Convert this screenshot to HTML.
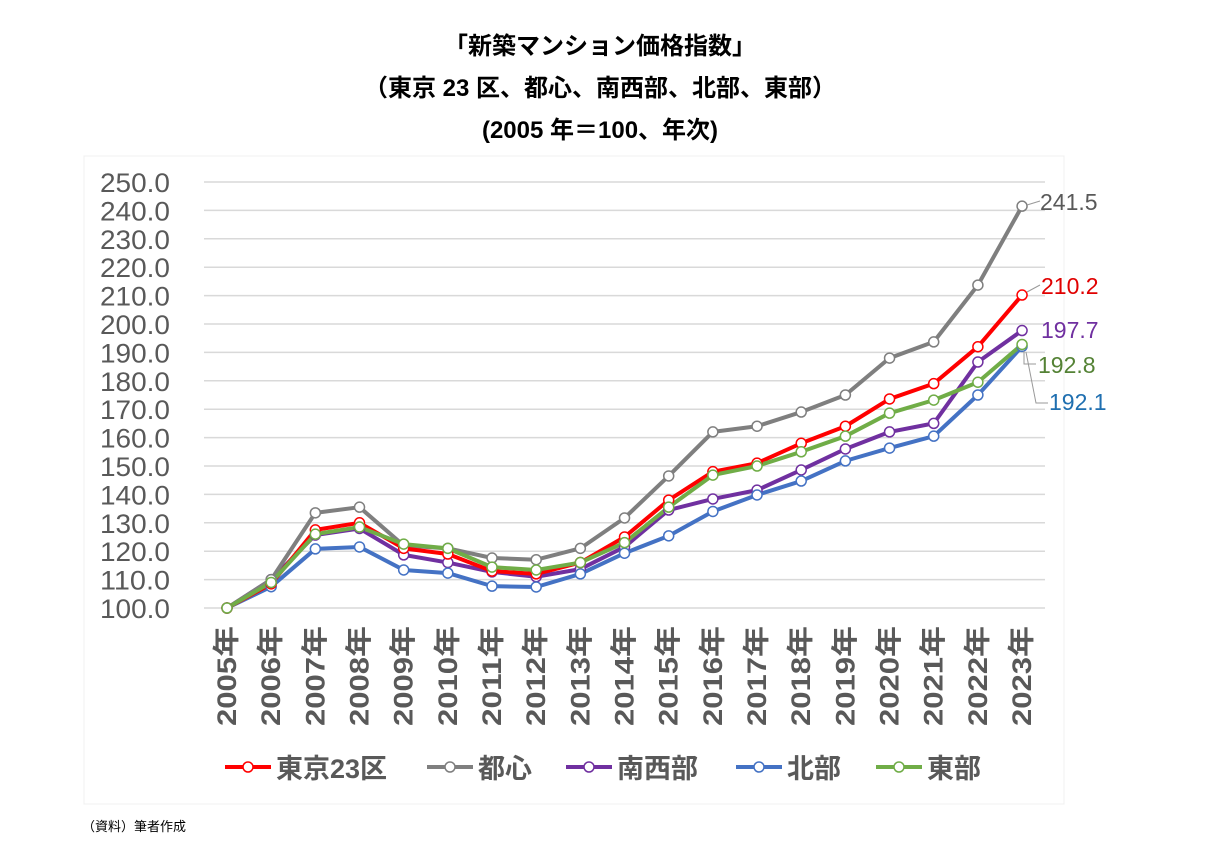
<!DOCTYPE html>
<html><head><meta charset="utf-8"><style>
html,body{margin:0;padding:0;background:#fff;width:1221px;height:868px;overflow:hidden}
svg text{font-family:"Liberation Sans","Noto Sans CJK JP",sans-serif}
</style></head><body>
<svg id="s" width="1221" height="868" xmlns="http://www.w3.org/2000/svg">
<rect x="84" y="156" width="980" height="648" fill="#fff" stroke="#f0f0f0"/>
<g font-weight="bold" font-size="24" fill="#000" text-anchor="middle">
<text x="600" y="54">「新築マンション価格指数」</text>
<text x="600" y="96">（東京 23 区、都心、南西部、北部、東部）</text>
<text x="600" y="138">(2005 年＝100、年次)</text>
</g>
<g id="grid"></g>
<g id="series"></g>
<g font-size="23" text-anchor="start">
<line x1="1027" y1="205" x2="1040" y2="201" stroke="#999"/>
<text x="1040" y="210" fill="#595959">241.5</text>
<line x1="1027" y1="292" x2="1040" y2="285" stroke="#999"/>
<text x="1041" y="294" fill="#e00000">210.2</text>
<text x="1041" y="338" fill="#7030a0">197.7</text>
<polyline points="1024,351 1024,364 1036,364" fill="none" stroke="#999"/>
<text x="1038" y="373" fill="#548235">192.8</text>
<polyline points="1026,352 1036,403 1048,403" fill="none" stroke="#999"/>
<text x="1049" y="410" fill="#1f6fb0">192.1</text>
</g>
<g id="legend" font-size="27" font-weight="bold" fill="#595959"></g>
<text x="82" y="831" font-size="13" fill="#000">（資料）筆者作成</text>
</svg>
<script>
const NS="http://www.w3.org/2000/svg";
function el(t,a,p,txt){const e=document.createElementNS(NS,t);for(const k in a)e.setAttribute(k,a[k]);if(txt!=null)e.textContent=txt;(p||document.getElementById('s')).appendChild(e);return e;}
const X=i=>227+i*44.17, Y=v=>608-(v-100)*2.84;
const g=document.getElementById('grid');
for(let v=100;v<=250;v+=10){
 el('line',{x1:204,x2:1045,y1:Y(v),y2:Y(v),stroke:'#d9d9d9','stroke-width':1.5},g);
 el('text',{x:170,y:Y(v)+10,'text-anchor':'end','font-size':27,fill:'#595959',textLength:70,lengthAdjust:'spacingAndGlyphs'},g,v.toFixed(1));
}
for(let i=0;i<19;i++){
 const x=X(i);
 el('text',{transform:`translate(${x+9},626) rotate(-90)`,'text-anchor':'end','font-size':27,'font-weight':'bold',fill:'#595959',textLength:100,lengthAdjust:'spacingAndGlyphs'},g,(2005+i)+'年');
}
const S=[
 ['#7030a0',[100,110,125.7,128,118.7,116,112.7,111,113.7,121.5,134.5,138.4,141.5,148.6,156,162,165,186.6,197.7]],
 ['#4472c4',[100,107.5,120.8,121.5,113.4,112.3,107.7,107.4,112,119.3,125.4,134,139.8,144.7,151.8,156.3,160.5,175,192.1]],
 ['#7f7f7f',[100,110,133.5,135.5,122,121,117.6,117,121,131.7,146.5,162,164,169,175,188,193.7,213.7,241.5]],
 ['#ff0000',[100,108.5,127.5,130,121,119,113,112,116,125,138,148,151,158,164,173.6,179,192,210.2]],
 ['#70ad47',[100,109,126,128.5,122.5,121,114.4,113.4,116,123,135.5,146.8,150,155,160.5,168.6,173.2,179.5,192.8]],
];
const sg=document.getElementById('series');
S.forEach(([c,d])=>{
 el('polyline',{points:d.map((v,i)=>X(i)+','+Y(v)).join(' '),fill:'none',stroke:c,'stroke-width':4,'stroke-linejoin':'round'},sg);
});
S.forEach(([c,d])=>{d.forEach((v,i)=>el('circle',{cx:X(i),cy:Y(v),r:5,fill:'#fff',stroke:c,'stroke-width':1.5},sg));});
const L=[['#ff0000','東京23区',225],['#7f7f7f','都心',427],['#7030a0','南西部',566],['#4472c4','北部',736],['#70ad47','東部',876]];
const lg=document.getElementById('legend');
L.forEach(([c,t,x])=>{
 el('line',{x1:x,x2:x+46,y1:767,y2:767,stroke:c,'stroke-width':4},lg);
 el('circle',{cx:x+23,cy:767,r:5,fill:'#fff',stroke:c,'stroke-width':1.5},lg);
 el('text',{x:x+51,y:778},lg,t);
});
</script>
</body></html>
